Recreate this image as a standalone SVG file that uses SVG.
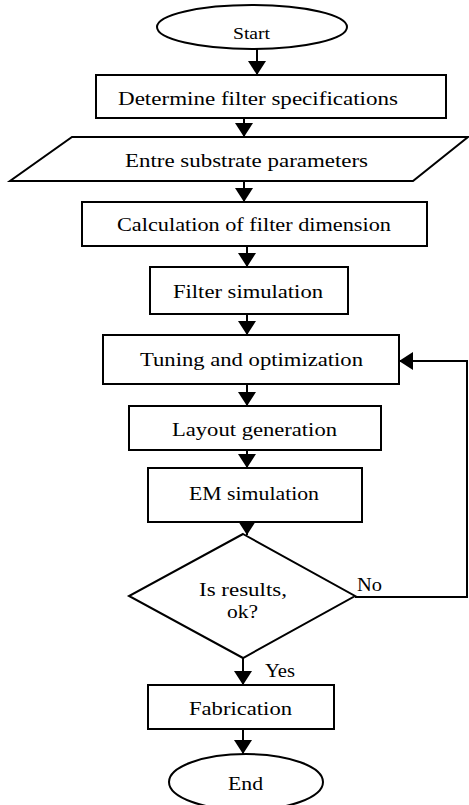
<svg xmlns="http://www.w3.org/2000/svg" width="469" height="805" viewBox="0 0 469 805">
<style>
.n{fill:#fff;stroke:#000;stroke-width:2}
.t{font-family:"Liberation Serif",serif;font-size:19px;fill:#000}
.c{fill:none;stroke:#000;stroke-width:2}
</style>
<defs>
<marker id="ah" viewBox="0 0 14 18" refX="14" refY="9" markerWidth="14" markerHeight="18" markerUnits="userSpaceOnUse" orient="auto">
<path d="M0,0 L14,9 L0,18 Z" fill="#000"/>
</marker>
</defs>
<rect width="469" height="805" fill="#fff"/>
<g id="start"><ellipse class="n" cx="252" cy="27" rx="95" ry="22" stroke-width="1.5"/><text class="t" x="233" y="39" style="font-size:16px" textLength="37" lengthAdjust="spacingAndGlyphs">Start</text></g>
<g id="spec"><rect class="n" x="96" y="75" width="350" height="43"/><text class="t" x="118" y="105" textLength="280" lengthAdjust="spacingAndGlyphs">Determine filter specifications</text></g>
<g id="substrate"><polygon class="n" points="72,137 468,137 413,181 10,181"/><text class="t" x="125" y="167" textLength="243" lengthAdjust="spacingAndGlyphs">Entre substrate parameters</text></g>
<g id="calc"><rect class="n" x="82" y="202" width="345" height="44"/><text class="t" x="117" y="231" textLength="274" lengthAdjust="spacingAndGlyphs">Calculation of filter dimension</text></g>
<g id="filtersim"><rect class="n" x="150" y="267" width="198" height="47"/><text class="t" x="173" y="298" textLength="150" lengthAdjust="spacingAndGlyphs">Filter simulation</text></g>
<g id="tuning"><rect class="n" x="103" y="335" width="296" height="49"/><text class="t" x="140" y="366" textLength="223" lengthAdjust="spacingAndGlyphs">Tuning and optimization</text></g>
<g id="layout"><rect class="n" x="129" y="406" width="252" height="44"/><text class="t" x="172" y="436" textLength="165" lengthAdjust="spacingAndGlyphs">Layout generation</text></g>
<g id="em"><rect class="n" x="148" y="468" width="214" height="54"/><text class="t" x="189" y="500" textLength="130" lengthAdjust="spacingAndGlyphs">EM simulation</text></g>
<g id="decision"><polygon class="n" points="243,534 355,596 243,658 129,596"/><text class="t" x="199" y="596" textLength="88" lengthAdjust="spacingAndGlyphs">Is results,</text><text class="t" x="227" y="618" textLength="31" lengthAdjust="spacingAndGlyphs">ok?</text></g>
<g id="fabrication"><rect class="n" x="148" y="685" width="186" height="44"/><text class="t" x="189" y="715" textLength="103" lengthAdjust="spacingAndGlyphs">Fabrication</text></g>
<g id="end"><ellipse class="n" cx="246" cy="782" rx="77" ry="28" stroke-width="1.5"/><text class="t" x="228" y="790" textLength="35" lengthAdjust="spacingAndGlyphs">End</text></g>
<g id="connectors">
<line class="c" x1="257" y1="49" x2="257" y2="75" marker-end="url(#ah)"/>
<line class="c" x1="244" y1="118" x2="244" y2="137" marker-end="url(#ah)"/>
<line class="c" x1="244" y1="181" x2="244" y2="202" marker-end="url(#ah)"/>
<line class="c" x1="247" y1="246" x2="247" y2="267" marker-end="url(#ah)"/>
<line class="c" x1="247" y1="314" x2="247" y2="335" marker-end="url(#ah)"/>
<line class="c" x1="247" y1="384" x2="247" y2="406" marker-end="url(#ah)"/>
<line class="c" x1="247" y1="450" x2="247" y2="468" marker-end="url(#ah)"/>
<line class="c" x1="247" y1="522" x2="247" y2="535" marker-end="url(#ah)"/>
<line class="c" x1="243" y1="658" x2="243" y2="685" marker-end="url(#ah)"/>
<line class="c" x1="243" y1="729" x2="243" y2="754" marker-end="url(#ah)"/>
<polyline class="c" points="355,597 467,597 467,361 399,361" marker-end="url(#ah)"/>
<text class="t" x="357" y="591" textLength="25" lengthAdjust="spacingAndGlyphs">No</text>
<text class="t" x="265" y="677" textLength="30" lengthAdjust="spacingAndGlyphs">Yes</text>
</g>
</svg>
